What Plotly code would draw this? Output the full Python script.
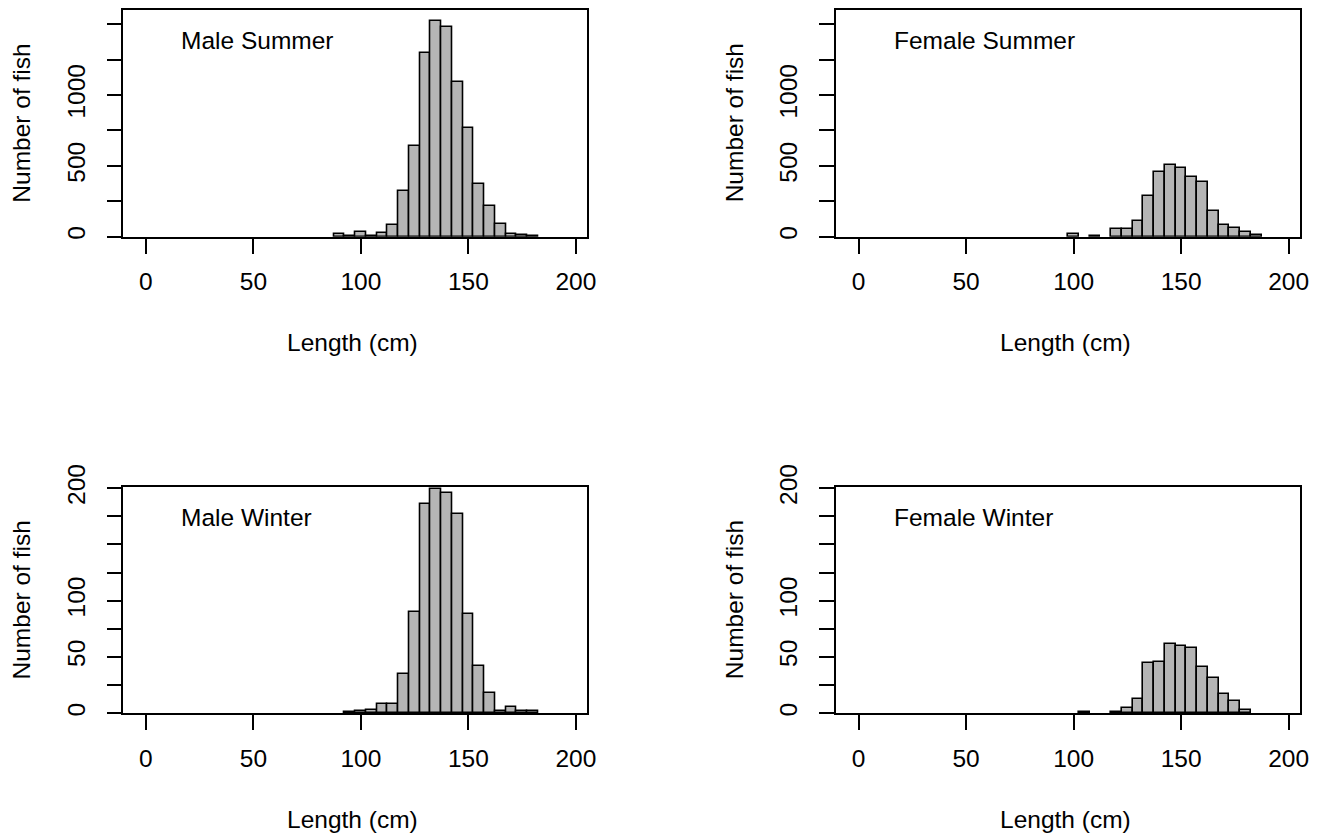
import plotly.graph_objects as go

# ---- data (bin centres in cm, bin width 5 cm; counts) ----
ms_x = [90, 95, 100, 105, 110, 115, 120, 125, 130, 135, 140, 145, 150, 155, 160, 165, 170, 175, 180]
ms_y = [16, 3, 30, 4, 28, 80, 322, 640, 1296, 1522, 1480, 1092, 765, 374, 219, 92, 16, 9, 5]

fs_x = [100, 110, 120, 125, 130, 135, 140, 145, 150, 155, 160, 165, 170, 175, 180, 185]
fs_y = [20, 4, 56, 52, 108, 285, 459, 508, 485, 424, 386, 181, 85, 61, 31, 12]

mw_x = [95, 100, 105, 110, 115, 120, 125, 130, 135, 140, 145, 150, 155, 160, 165, 170, 175, 180]
mw_y = [1, 2, 3, 8, 8, 35, 90, 186, 199, 196, 177, 88, 42, 18, 2, 6, 2, 2]

fw_x = [105, 120, 125, 130, 135, 140, 145, 150, 155, 160, 165, 170, 175, 180]
fw_y = [1, 1, 5, 13, 45, 46, 62, 60, 58, 41, 31, 17, 11, 3]

panel_titles = ["Male Summer", "Female Summer", "Male Winter", "Female Winter"]
x_ticks = [0, 50, 100, 150, 200]
summer_ticks = [0, 250, 500, 750, 1000, 1250, 1500]
summer_labels = ["0", "", "500", "", "1000", "", ""]
winter_ticks = [0, 25, 50, 75, 100, 125, 150, 175, 200]
winter_labels = ["0", "", "50", "", "100", "", "", "", "200"]
bin_width = 5
x_title = "Length (cm)"
y_title = "Number of fish"

W, H = 1322, 834
FONT = "Liberation Sans, Arial, Helvetica, sans-serif"
FS = 24.5
BAR_FILL = "#b5b5b5"

series = [(ms_x, ms_y), (fs_x, fs_y), (mw_x, mw_y), (fw_x, fw_y)]

# panel boxes in pixels (left, right, top, bottom)
boxes = [(123.3, 587.3, 10, 236.7), (836, 1300, 10, 236.7),
         (123.3, 587.3, 487, 713.3), (836, 1300, 487, 713.3)]

fig = go.Figure()
for i, (xs, ys) in enumerate(series):
    ax = "" if i == 0 else str(i + 1)
    fig.add_trace(go.Bar(
        x=xs, y=ys, width=bin_width,
        marker=dict(color=BAR_FILL, line=dict(color="black", width=1.6)),
        xaxis="x" + ax, yaxis="y" + ax, showlegend=False, hoverinfo="x+y"))

layout = dict(width=W, height=H, margin=dict(l=0, r=0, t=0, b=0, autoexpand=False),
              plot_bgcolor="white", paper_bgcolor="white",
              font=dict(family=FONT, size=FS, color="black"),
              bargap=0, annotations=[])

for i, (l, r, t, b) in enumerate(boxes):
    ax = "" if i == 0 else str(i + 1)
    summer = i < 2
    xa = dict(domain=[l / W, r / W], range=[-10.5, 205.3], anchor="y" + ax,
              automargin=False,
              showline=True, linecolor="black", linewidth=1.6, mirror=True,
              ticks="outside", ticklen=15, tickwidth=1.6, tickcolor="black",
              tickvals=x_ticks, ticktext=[str(v) for v in x_ticks],
              showgrid=False, zeroline=False, ticklabelstandoff=7,
              tickfont=dict(size=FS, family=FONT, color="black"))
    ya = dict(domain=[1 - b / H, 1 - t / H],
              range=[0, 1600] if summer else [0, 201],
              anchor="x" + ax, automargin=False,
              showline=True, linecolor="black", linewidth=1.6, mirror=True,
              ticks="outside", ticklen=15, tickwidth=1.6, tickcolor="black",
              tickvals=summer_ticks if summer else winter_ticks,
              ticktext=summer_labels if summer else winter_labels,
              tickangle=-90, showgrid=False, zeroline=False, ticklabelstandoff=12,
              tickfont=dict(size=FS, family=FONT, color="black"))
    layout["xaxis" + ax] = xa
    layout["yaxis" + ax] = ya

    # panel label
    layout["annotations"].append(dict(
        text=panel_titles[i], xref="paper", yref="paper",
        x=(l + 56) / W, y=1 - (t + 30) / H, xanchor="left", yanchor="middle",
        showarrow=False, font=dict(size=FS, family=FONT, color="black")))
    # x title
    layout["annotations"].append(dict(
        text=x_title, xref="paper", yref="paper",
        x=(l + r) / 2 / W - 0.002, y=1 - (b + 106) / H, xanchor="center", yanchor="middle",
        showarrow=False, font=dict(size=FS, family=FONT, color="black")))
    # y title
    layout["annotations"].append(dict(
        text=y_title, xref="paper", yref="paper", textangle=-90,
        x=(l - 102) / W, y=1 - (t + b) / 2 / H, xanchor="center", yanchor="middle",
        showarrow=False, font=dict(size=FS, family=FONT, color="black")))

fig.update_layout(**layout)
fig.write_html("out.html", config={"displayModeBar": False},
               post_script="document.body.style.margin='0';document.body.style.overflow='hidden';")
